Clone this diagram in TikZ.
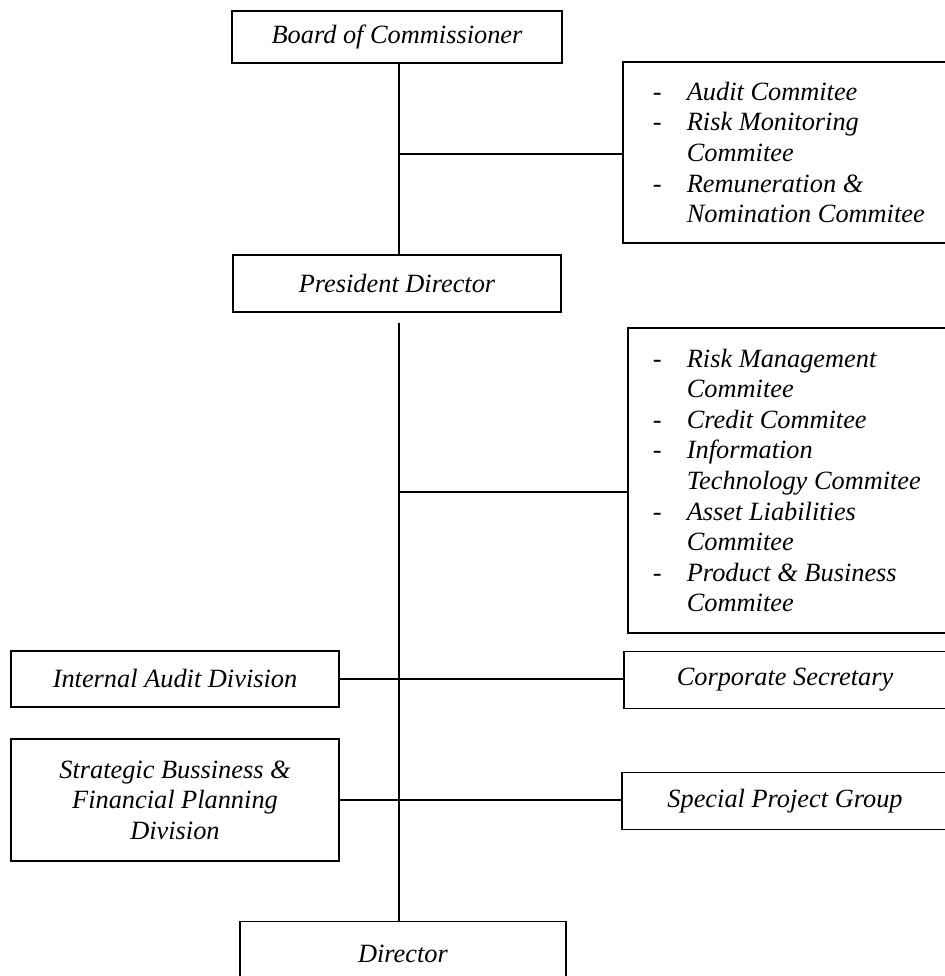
\documentclass[tikz,border=0pt]{standalone}
\usepackage{fontspec}
\setmainfont{Liberation Serif}
\usepackage{tikz}
\usetikzlibrary{calc,positioning}
\tikzset{
  orgbox/.style={rectangle, draw, line width=1pt, align=center, inner sep=2pt,
    font=\itshape\fontsize{15}{17.4}\selectfont},
  listbox/.style={orgbox, align=left, anchor=west, inner xsep=0.6cm},
  link/.style={line width=1pt},
  every picture/.style={line cap=butt, line join=miter}
}
\newcommand{\itm}[1]{\makebox[0.68cm][l]{-}#1}
\newcommand{\cnt}[1]{\hspace*{0.68cm}#1}

\begin{document}
\begin{tikzpicture}[x=0.02cm, y=-0.02cm]
  \useasboundingbox (0,0) rectangle (945,976);
  \clip (0,0) rectangle (945,976);
  \node[orgbox, minimum width=6.6cm, minimum height=1.04cm] (board) at (397,37) {Board of Commissioner};
  \node[orgbox, minimum width=6.56cm, minimum height=1.14cm] (pres) at (397,283.5) {President Director};
  \node[listbox, minimum width=6.46cm, minimum height=3.62cm] (com1) at (622,152.5)
    {\itm{Audit Commitee}\\ \itm{Risk Monitoring}\\ \cnt{Commitee}\\ \itm{Remuneration \&}\\ \cnt{Nomination Commitee}};
  \node[listbox, inner xsep=0.5cm, minimum width=6.36cm, minimum height=6.1cm] (com2) at (627,480.5)
    {\itm{Risk Management}\\ \cnt{Commitee}\\ \itm{Credit Commitee}\\ \itm{Information}\\ \cnt{Technology Commitee}\\
     \itm{Asset Liabilities}\\ \cnt{Commitee}\\ \itm{Product \& Business}\\ \cnt{Commitee}};
  \node[orgbox, minimum width=6.56cm, minimum height=1.12cm] (iad) at (175,679) {Internal Audit Division};
  \node[orgbox, minimum width=6.44cm, minimum height=1.14cm] (cs) at (785,680) {Corporate Secretary};
  \node[orgbox, minimum width=6.56cm, minimum height=2.44cm] (sbf) at (175,800) {Strategic Bussiness \&\\ Financial Planning\\ Division};
  \node[orgbox, minimum width=6.52cm, minimum height=1.14cm] (spg) at (785,801) {Special Project Group};
  \node[orgbox, minimum width=6.52cm, minimum height=1.3cm] (dir) at (403,954) {Director};
  % trunk
  \coordinate (top) at (399,63);
  \coordinate (mid) at (399,323);
  \draw[link] (top) -- (top |- pres.north);
  \draw[link] (mid) -- (mid |- dir.north);
  % branches
  \draw[link] (399,154) coordinate (b1) -- (b1 -| com1.west);
  \draw[link] (399,492) coordinate (b2) -- (b2 -| com2.west);
  \draw[link] (iad.east) -- (iad.east -| cs.west);
  \draw[link] (sbf.east) -- (sbf.east -| spg.west);
\end{tikzpicture}
\end{document}
